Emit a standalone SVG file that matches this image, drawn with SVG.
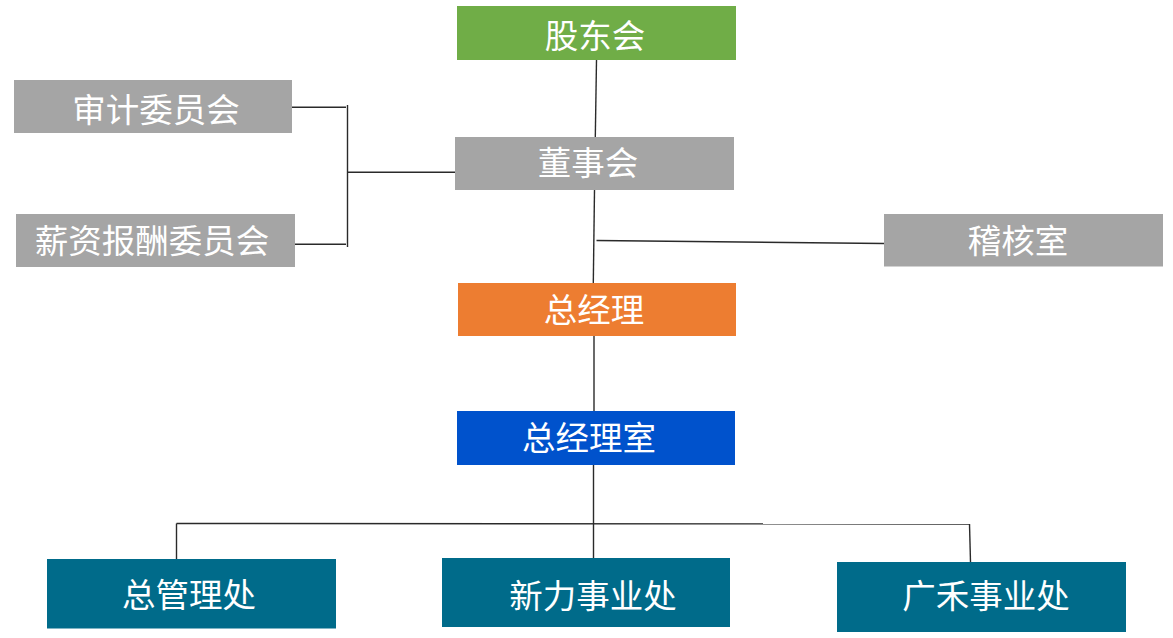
<svg xmlns="http://www.w3.org/2000/svg" width="1173" height="638" viewBox="0 0 1173 638">
<style>
.t{font-family:"Noto Sans CJK SC","Noto Sans",sans-serif;font-size:33.5px;fill:#fff;text-anchor:middle}
.c{stroke:#2a2a2a;stroke-width:1.4;fill:none}
.g{fill:#A5A5A5}
.tl{fill:#006B8A}
</style>
<rect width="1173" height="638" fill="#fff"/>
<g id="connectors">
<path class="c" d="M596.5 60 L595.3 137"/>
<path class="c" d="M594.5 190 L593.3 283"/>
<path class="c" d="M596.5 240.5 L884 243.5"/>
<path class="c" d="M292 107.3 L346 107.3"/>
<path class="c" d="M295 244.3 L346 244.3"/>
<path class="c" d="M347.5 105 L347.5 247"/>
<path class="c" d="M347.5 172.3 L455 172.3"/>
<path class="c" d="M594 336 L594 411"/>
<path class="c" d="M593.5 465 L593.5 558"/>
<path class="c" d="M176.5 523.5 L969.5 524"/>
<path class="c" d="M176.5 523.5 L176.5 559"/>
<path class="c" d="M969.5 524 L970.5 562"/>
</g>
<g id="gudonghui"><rect x="457" y="6" width="279" height="54" fill="#70AD47"/><text class="t" x="595" y="48">股东会</text></g>
<g id="dongshihui"><rect class="g" x="455" y="137" width="279" height="53"/><text class="t" x="588" y="175">董事会</text></g>
<g id="shenji"><rect class="g" x="14" y="80" width="278" height="53"/><text class="t" x="156" y="122">审计委员会</text></g>
<g id="xinzi"><rect class="g" x="16" y="214" width="279" height="53"/><text class="t" x="152" y="253">薪资报酬委员会</text></g>
<g id="jihe"><rect class="g" x="884" y="214" width="279" height="52.5"/><text class="t" x="1018" y="253">稽核室</text></g>
<g id="zongjingli"><rect x="458" y="283" width="278" height="53" fill="#ED7D31"/><text class="t" x="594" y="322">总经理</text></g>
<g id="zongjinglishi"><rect x="457" y="411" width="278" height="54" fill="#0052CC"/><text class="t" x="589" y="450">总经理室</text></g>
<g id="zongguanli"><rect class="tl" x="47" y="559" width="289" height="69.5"/><text class="t" x="189" y="607">总管理处</text></g>
<g id="xinli"><rect class="tl" x="442" y="558" width="288" height="69"/><text class="t" x="593" y="608">新力事业处</text></g>
<g id="guanghe"><rect class="tl" x="837" y="562" width="289" height="70"/><text class="t" x="986" y="608">广禾事业处</text></g>
</svg>
